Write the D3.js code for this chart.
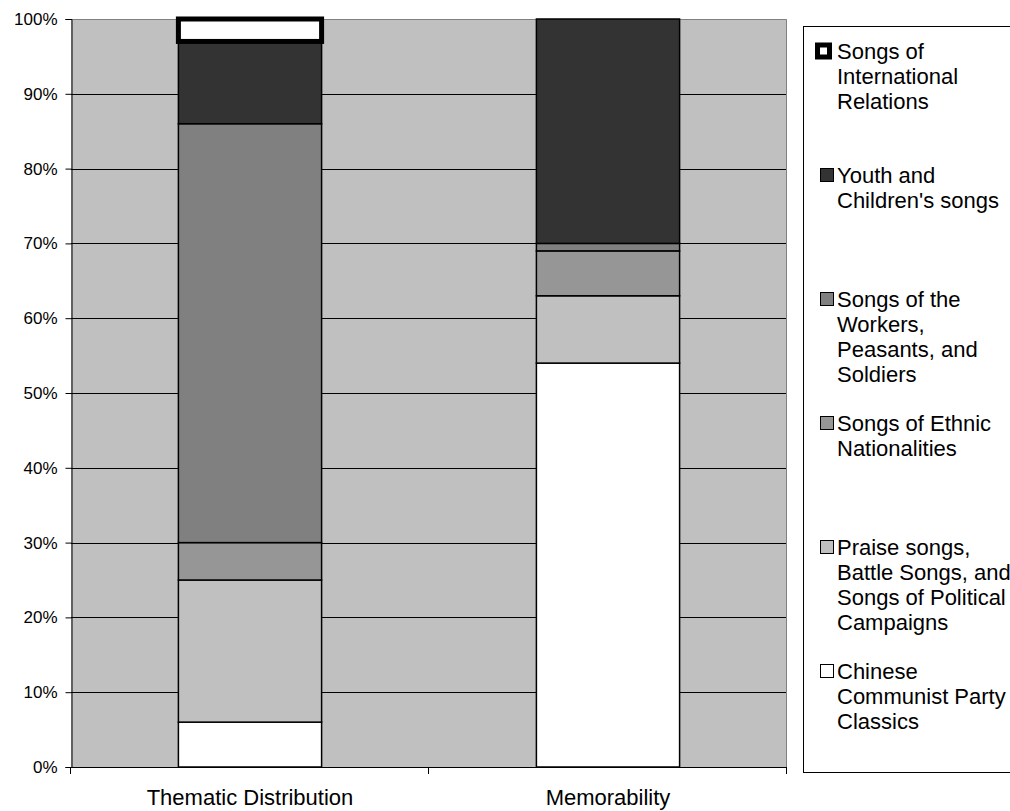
<!DOCTYPE html>
<html>
<head>
<meta charset="utf-8">
<script src="https://cdn.jsdelivr.net/npm/d3@7/dist/d3.min.js"></script>
<style>
  html, body { margin: 0; padding: 0; background: #ffffff; }
  svg { display: block; font-family: "Liberation Sans", Arial, sans-serif; }
</style>
</head>
<body>
<svg id="chart" width="1010" height="811"></svg>
<script>
// Categories along the x axis
const categories = ["Thematic Distribution", "Memorability"];

// Series, listed bottom of the stack to top
const seriesNames = [
  "Chinese Communist Party Classics",
  "Praise songs, Battle Songs, and Songs of Political Campaigns",
  "Songs of Ethnic Nationalities",
  "Songs of the Workers, Peasants, and Soldiers",
  "Youth and Children's songs",
  "Songs of International Relations"
];

// Percent shares per category (same order as categories)
const partyClassics   = [6, 54];
const praiseBattle    = [19, 9];
const ethnic          = [5, 6];
const workersPeasants = [56, 1];
const youthChildren   = [11, 30];
const international   = [3, 0];

// Legend text, wrapped as shown in the legend box
const legendLines = [
  ["Chinese", "Communist Party", "Classics"],
  ["Praise songs,", "Battle Songs, and", "Songs of Political", "Campaigns"],
  ["Songs of Ethnic", "Nationalities"],
  ["Songs of the", "Workers,", "Peasants, and", "Soldiers"],
  ["Youth and", "Children's songs"],
  ["Songs of", "International", "Relations"]
];

const yTicks = [0, 10, 20, 30, 40, 50, 60, 70, 80, 90, 100];

const seriesValues = [partyClassics, praiseBattle, ethnic, workersPeasants, youthChildren, international];
const fills = ["#ffffff", "#c0c0c0", "#969696", "#808080", "#333333", "#ffffff"];
const strokeW = [1.5, 1.5, 1.5, 1.5, 1.5, 5];

const svg = d3.select("#chart");
const plot = { left: 71, top: 19, right: 787, bottom: 767 };

const x = d3.scaleBand()
  .domain(categories)
  .range([plot.left, plot.right])
  .paddingInner(0.6)
  .paddingOuter(0.3);

const y = d3.scaleLinear().domain([0, 100]).range([plot.bottom, plot.top]);

// Plot background
svg.append("rect")
  .attr("x", plot.left).attr("y", plot.top)
  .attr("width", plot.right - plot.left).attr("height", plot.bottom - plot.top)
  .attr("fill", "#c0c0c0");

// Horizontal gridlines
svg.append("g")
  .selectAll("line")
  .data(yTicks.filter(t => t > 0 && t < 100))
  .join("line")
  .attr("x1", plot.left).attr("x2", plot.right)
  .attr("y1", d => Math.round(y(d)) + 0.5).attr("y2", d => Math.round(y(d)) + 0.5)
  .attr("stroke", "#000").attr("stroke-width", 1);

// Plot frame: top and right edges in grey
svg.append("path")
  .attr("d", `M${plot.left},${plot.top + 0.5}H${plot.right - 0.5}V${plot.bottom}`)
  .attr("fill", "none").attr("stroke", "#808080").attr("stroke-width", 1);

// Stack the data
const rows = categories.map((c, i) => {
  const r = { category: c };
  seriesNames.forEach((s, j) => { r[s] = seriesValues[j][i]; });
  return r;
});
const stacked = d3.stack().keys(seriesNames)(rows);

const barsG = svg.append("g");
stacked.forEach((layer, j) => {
  barsG.append("g")
    .selectAll("rect")
    .data(layer.filter(d => d[1] - d[0] > 0))
    .join("rect")
    .attr("x", d => x(d.data.category))
    .attr("width", x.bandwidth())
    .attr("y", d => y(d[1]))
    .attr("height", d => y(d[0]) - y(d[1]))
    .attr("fill", fills[j])
    .attr("stroke", "#000")
    .attr("stroke-width", strokeW[j]);
});

// Y axis
const yAxis = d3.axisLeft(y)
  .tickValues(yTicks)
  .tickFormat(d => d + "%")
  .tickSize(6)
  .tickPadding(8);
const gy = svg.append("g")
  .attr("transform", `translate(${plot.left + 0.5},0)`)
  .call(yAxis);
gy.select(".domain").attr("stroke", "#000");
gy.selectAll(".tick line").attr("stroke", "#000");
gy.selectAll(".tick text")
  .attr("font-size", 17)
  .attr("font-family", "Liberation Sans, Arial, sans-serif")
  .attr("fill", "#000");

// X axis: ticks sit at band boundaries
const xBoundaries = [plot.left, (x(categories[0]) + x.bandwidth() + x(categories[1])) / 2, plot.right];
const xAxisG = svg.append("g");
xAxisG.append("line")
  .attr("x1", plot.left).attr("x2", plot.right)
  .attr("y1", plot.bottom + 0.5).attr("y2", plot.bottom + 0.5)
  .attr("stroke", "#000");
xAxisG.selectAll("line.tk")
  .data(xBoundaries)
  .join("line")
  .attr("class", "tk")
  .attr("x1", d => Math.round(d) - 0.5).attr("x2", d => Math.round(d) - 0.5)
  .attr("y1", plot.bottom).attr("y2", plot.bottom + 7)
  .attr("stroke", "#000");
xAxisG.selectAll("text")
  .data(categories)
  .join("text")
  .attr("x", d => x(d) + x.bandwidth() / 2)
  .attr("y", 805)
  .attr("text-anchor", "middle")
  .attr("font-size", 22)
  .attr("fill", "#000")
  .text(d => d);

// Legend
const legend = svg.append("g");
legend.append("rect")
  .attr("x", 803.5).attr("y", 26.5)
  .attr("width", 220).attr("height", 746)
  .attr("fill", "#fff").attr("stroke", "#000").attr("stroke-width", 1);

const legendOrder = d3.range(seriesNames.length).reverse();
const ly = d3.scalePoint().domain(legendOrder).range([51, 671]);
const lineH = 25;

legendOrder.forEach(j => {
  const cy = ly(j);
  const g = legend.append("g");
  if (j === 5) {
    g.append("rect")
      .attr("x", 817.5).attr("y", cy - 6)
      .attr("width", 12).attr("height", 12)
      .attr("fill", fills[j]).attr("stroke", "#000").attr("stroke-width", 5);
  } else {
    g.append("rect")
      .attr("x", 820.5).attr("y", cy - 6.5)
      .attr("width", 13).attr("height", 13)
      .attr("fill", fills[j]).attr("stroke", "#000").attr("stroke-width", 1);
  }
  g.append("text")
    .attr("font-size", 22)
    .attr("fill", "#000")
    .selectAll("tspan")
    .data(legendLines[j])
    .join("tspan")
    .attr("x", 837)
    .attr("y", (d, k) => cy + 8 + k * lineH)
    .text(d => d);
});
</script>
</body>
</html>
